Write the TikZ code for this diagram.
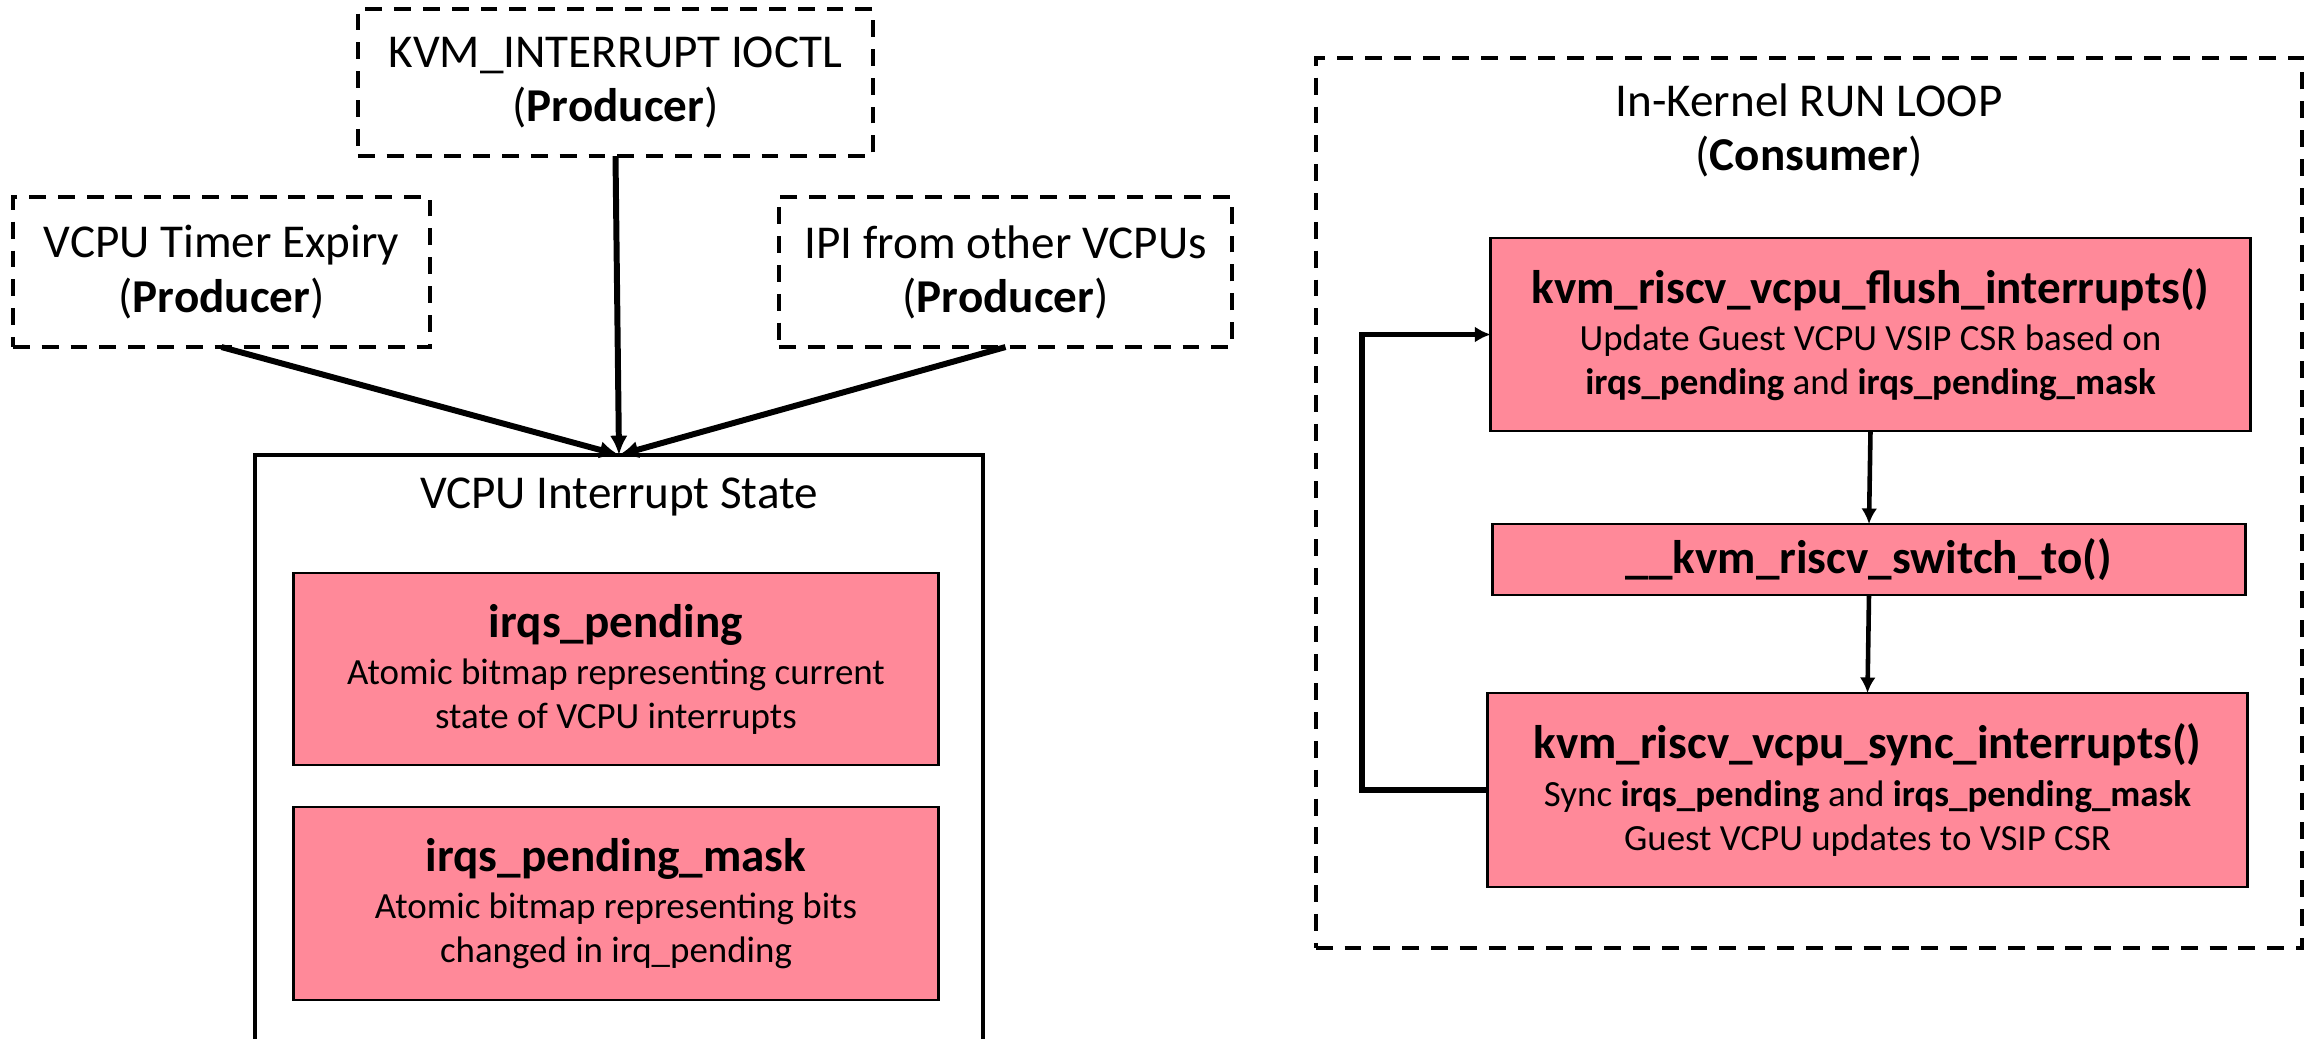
\documentclass[tikz,border=0pt]{standalone}
\usepackage{fontspec}
\setmainfont{Carlito}
\usetikzlibrary{arrows.meta}
\definecolor{boxpink}{RGB}{255,137,153}
\newcommand\mainsize{\fontsize{13.4}{15.4}\selectfont}
\newcommand\subsize{\fontsize{10.5}{12.5}\selectfont}
\newcommand\boxtitle[1]{{\fontsize{13.4}{15}\selectfont\bfseries #1}}

\begin{document}
\begin{tikzpicture}[x=0.01cm, y=-0.01cm,
  every node/.style={inner sep=0pt, outer sep=0pt},
  dashbox/.style={draw, line width=1.2pt, dash pattern=on 4.8pt off 3.4pt,
    align=center, font=\mainsize},
  statebox/.style={draw, line width=1.2pt},
  pinkbox/.style={draw, fill=boxpink, line width=0.75pt, align=center,
    font=\subsize},
  feed/.style={line width=1.7pt, -{Latex[length=5.5pt, width=5pt]}},
  flow/.style={line width=1.3pt, -{Latex[length=4.4pt, width=4.5pt]}},
  loopline/.style={line width=1.6pt, -{Latex[length=4.5pt, width=4.5pt]}}]

\useasboundingbox (0,0) rectangle (2308,1039);
\clip (0,0) rectangle (2308,1039);

% producers
\node[dashbox, minimum width=5.15cm, minimum height=1.47cm] (kvm) at (615.5,82.5)
  {KVM\_INTERRUPT IOCTL\\(\textbf{Producer})};
\node[dashbox, minimum width=4.17cm, minimum height=1.50cm] (timer) at (221.5,272)
  {VCPU Timer Expiry\\(\textbf{Producer})};
\node[dashbox, minimum width=4.53cm, minimum height=1.50cm] (ipi) at (1005.5,272)
  {IPI from other VCPUs\\(\textbf{Producer})};

% interrupt state (runs off the bottom edge)
\node[statebox, minimum width=7.28cm, minimum height=6.60cm, anchor=north] (state) at (619,455) {};
\node[font=\mainsize] (statetitle) at (619,497) {VCPU Interrupt State};
\node[pinkbox, minimum width=6.44cm, minimum height=1.92cm] (pend) at (616,669)
  {\boxtitle{irqs\_pending}\\[0.9pt]
   Atomic bitmap representing current\\ state of VCPU interrupts};
\node[pinkbox, minimum width=6.44cm, minimum height=1.93cm] (mask) at (616,903.5)
  {\boxtitle{irqs\_pending\_mask}\\[0.9pt]
   Atomic bitmap representing bits\\ changed in irq\_pending};

\draw[feed] (timer.south) -- (state.north);
\draw[feed] (ipi.south) -- (state.north);
\draw[feed] (kvm.south) -- (state.north);

% consumer run loop
\node[dashbox, minimum width=9.86cm, minimum height=8.90cm] (consumer) at (1809,503) {};
\node[font=\mainsize, align=center] (consumertitle) at (1809,130)
  {In-Kernel RUN LOOP\\(\textbf{Consumer})};
\node[pinkbox, minimum width=7.59cm, minimum height=1.93cm] (flush) at (1870.5,334.5)
  {\boxtitle{kvm\_riscv\_vcpu\_flush\_interrupts()}\\[0.9pt]
   Update Guest VCPU VSIP CSR based on\\
   \textbf{irqs\_pending} and \textbf{irqs\_pending\_mask}};
\node[pinkbox, minimum width=7.52cm, minimum height=0.71cm] (switch) at (1869,559.5)
  {\boxtitle{\_\_kvm\_riscv\_switch\_to()}};
\node[pinkbox, minimum width=7.59cm, minimum height=1.94cm] (sync) at (1867.5,790)
  {\boxtitle{kvm\_riscv\_vcpu\_sync\_interrupts()}\\[0.9pt]
   Sync \textbf{irqs\_pending} and \textbf{irqs\_pending\_mask}\\
   Guest VCPU updates to VSIP CSR};

\draw[flow] (flush.south) -- (switch.north);
\draw[flow] (switch.south) -- (sync.north);
\draw[loopline] (sync.west) -- ++(-126,0) |- (flush.west);
\end{tikzpicture}
\end{document}
